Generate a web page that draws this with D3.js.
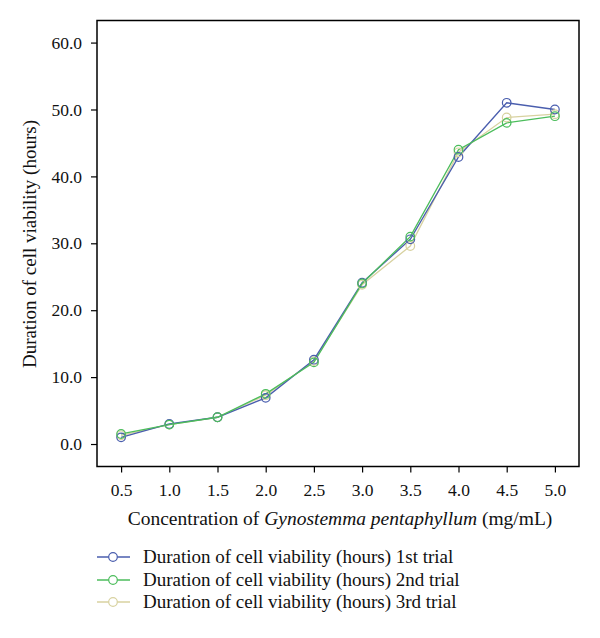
<!DOCTYPE html>
<html><head><meta charset="utf-8">
<script src="https://cdn.jsdelivr.net/npm/d3@7"></script>
<style>body{margin:0;background:#fff}svg{display:block}text{font-family:"Liberation Serif","Times New Roman",serif;fill:#111}</style>
</head><body>
<svg id="c" width="600" height="638"></svg>
<script>
const concentrations = [0.5,1.0,1.5,2.0,2.5,3.0,3.5,4.0,4.5,5.0];
const trial1 = [1.0,3.0,4.0,6.9,12.6,24.1,30.6,42.9,51.0,50.0];
const trial2 = [1.5,2.9,4.0,7.5,12.2,24.0,31.0,44.0,48.0,49.0];
const trial3 = [1.3,2.9,4.0,7.3,12.4,23.8,29.6,43.6,48.8,49.3];
const seriesNames = ["Duration of cell viability (hours) 1st trial","Duration of cell viability (hours) 2nd trial","Duration of cell viability (hours) 3rd trial"];
const seriesColors = ["#4a5eae","#4cbd5c","#d8d2a0"];
const yTicks = [0,10,20,30,40,50,60];
const xTicks = [0.5,1.0,1.5,2.0,2.5,3.0,3.5,4.0,4.5,5.0];

const svg = d3.select("#c");
const L=97,R=579,T=20.5,B=466.5;
const x = d3.scaleLinear().domain([0.25,5.25]).range([L,R]);
const y = d3.scaleLinear().domain([-3.36,63.3]).range([B,T]);

svg.append("g").attr("transform",`translate(${L},0)`)
  .call(d3.axisLeft(y).tickValues(yTicks).tickFormat(d3.format(".1f")).tickSize(6).tickPadding(9))
  .call(g=>{g.select(".domain").remove();g.selectAll("line").attr("stroke","#000").attr("stroke-width",1.2);g.selectAll("text").attr("font-size",17.5).attr("fill","#111").attr("font-family","Liberation Serif, serif");});
svg.append("g").attr("transform",`translate(0,${B})`)
  .call(d3.axisBottom(x).tickValues(xTicks).tickFormat(d3.format(".1f")).tickSize(6).tickPadding(11))
  .call(g=>{g.select(".domain").remove();g.selectAll("line").attr("stroke","#000").attr("stroke-width",1.2);g.selectAll("text").attr("font-size",17.5).attr("fill","#111").attr("font-family","Liberation Serif, serif");});

svg.append("rect").attr("x",L).attr("y",T).attr("width",R-L).attr("height",B-T)
  .attr("fill","none").attr("stroke","#000").attr("stroke-width",1.5);

const data=[trial1,trial2,trial3];
const line=d3.line().x((d,i)=>x(concentrations[i])).y(d=>y(d));
const order=[2,0,1];
order.forEach(k=>{
  svg.append("path").attr("d",line(data[k])).attr("fill","none").attr("stroke",seriesColors[k]).attr("stroke-width",1.3);
});
order.forEach(k=>{
  svg.append("g").selectAll("circle").data(data[k]).join("circle")
    .attr("cx",(d,i)=>x(concentrations[i])).attr("cy",d=>y(d)).attr("r",4.3)
    .attr("fill","none").attr("stroke",seriesColors[k]).attr("stroke-width",1.2);
});

// y title
svg.append("text").attr("transform",`translate(36,244) rotate(-90)`).attr("text-anchor","middle")
  .attr("font-size",19).text("Duration of cell viability (hours)");
// x title
const xt=svg.append("text").attr("x",(L+R)/2+2).attr("y",525).attr("text-anchor","middle").attr("font-size",19.5);
xt.append("tspan").text("Concentration of ");
xt.append("tspan").attr("font-style","italic").text("Gynostemma pentaphyllum");
xt.append("tspan").text(" (mg/mL)");

// legend
const ly=[557,580,602];
seriesNames.forEach((n,k)=>{
  const g=svg.append("g");
  g.append("line").attr("x1",97).attr("x2",130).attr("y1",ly[k]).attr("y2",ly[k]).attr("stroke",seriesColors[k]).attr("stroke-width",1.3);
  g.append("circle").attr("cx",113).attr("cy",ly[k]).attr("r",4.3).attr("fill","#fff").attr("stroke",seriesColors[k]).attr("stroke-width",1.2);
  g.append("text").attr("x",143).attr("y",ly[k]+6).attr("font-size",19).text(n);
});
</script>
</body></html>
